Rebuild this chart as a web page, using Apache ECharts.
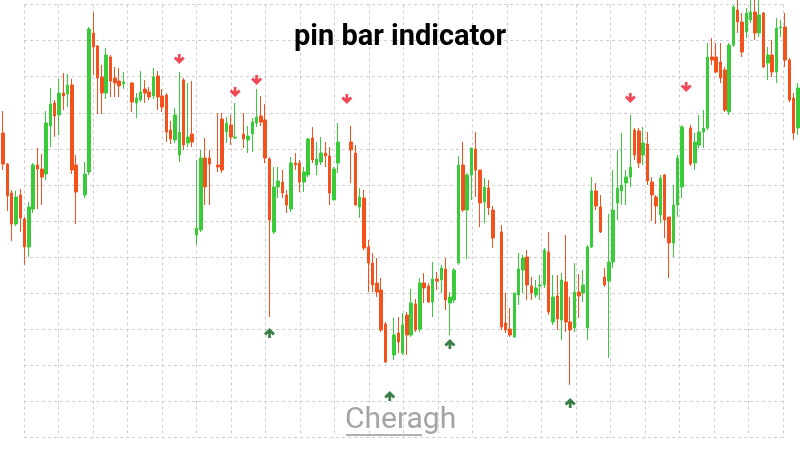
<!DOCTYPE html>
<html>
<head>
<meta charset="utf-8">
<script src="https://cdn.jsdelivr.net/npm/echarts@6/dist/echarts.min.js"></script>
<style>
  html, body { margin: 0; padding: 0; background: #fff; }
  #chart { width: 800px; height: 450px; }
</style>
</head>
<body>
<div id="chart"></div>
<script>
// price readings, one per bar (null = no bar drawn)
const openVals = [
  317,286,257,226,255,231,203,241,285,281,
  276,324,347,335,357,356,365,285,null,255,
  278,417,404,373,357,393,372,369,366,null,
  367,347,350,361,358,354,374,354,355,320,
  310,295,370,307,316,215,220,292,292,null,
  285,331,318,325,312,null,316,310,316,327,
  334,330,291,218,263,268,255,241,287,287,
  268,275,312,285,288,297,294,250,287,null,
  null,308,297,243,252,203,187,167,160,126,
  null,95,117,97,135,115,146,121,167,164,
  148,171,170,181,147,150,187,285,240,275,
  301,280,248,262,240,null,218,127,121,113,
  155,180,193,164,155,164,165,198,128,154,
  130,168,128,122,158,157,122,203,259,243,
  173,169,188,247,259,267,273,320,319,295,
  306,268,253,235,275,233,207,245,263,null,
  322,287,305,318,322,393,393,388,380,338,
  405,440,428,418,430,438,417,437,387,395,
  378,422,423,390,352,322
];
const closeVals = [
  286,254,226,253,232,203,243,285,281,273,
  327,346,334,357,354,365,280,258,null,276,
  421,403,372,357,395,369,367,364,368,null,
  348,352,358,357,353,373,353,343,318,311,
  335,318,305,313,308,222,292,263,286,null,
  283,280,327,313,313,null,311,314,328,333,
  328,292,230,263,269,257,245,287,285,268,
  278,311,290,291,297,294,257,281,308,null,
  null,300,245,253,202,187,165,158,120,88,
  null,115,108,125,115,147,120,167,162,148,
  171,169,182,150,153,180,285,240,275,302,
  280,247,263,242,212,null,123,120,115,157,
  181,192,165,157,162,165,200,138,153,131,
  170,128,120,158,154,165,203,259,244,218,
  165,188,240,262,265,273,283,295,287,307,
  269,255,244,272,230,207,245,292,323,null,
  286,308,318,322,393,390,378,372,340,405,
  443,428,398,437,438,417,435,383,395,378,
  422,423,390,350,317,362
];
const lowVals = [
  280,239,209,224,218,185,193,237,241,245,
  270,303,313,315,340,343,276,226,null,252,
  275,375,336,336,351,353,353,353,361,null,
  338,332,348,347,350,351,340,338,308,306,
  307,288,300,303,303,205,218,245,245,null,
  278,277,307,305,311,null,302,297,298,323,
  324,287,133,216,252,252,237,238,280,258,
  258,273,287,275,285,283,245,250,277,null,
  null,267,244,232,200,158,158,153,118,87,
  null,90,97,95,95,113,118,118,147,147,
  133,160,157,140,115,147,185,238,191,250,
  253,223,227,235,202,null,120,117,113,112,
  145,157,150,150,152,150,162,135,125,120,
  110,118,65,118,132,148,110,202,240,217,
  163,92,182,230,245,245,263,290,282,285,
  265,229,226,227,212,172,193,233,252,null,
  284,280,302,302,320,385,377,367,338,335,
  403,417,393,412,427,410,413,382,370,373,
  367,413,383,348,310,315
];
const highVals = [
  339,287,260,259,261,233,248,287,302,296,
  339,362,350,371,377,376,371,295,null,288,
  423,438,405,385,402,395,383,382,378,null,
  368,357,379,370,363,382,379,361,357,329,
  342,378,372,367,369,290,300,312,300,null,
  337,337,333,335,347,null,337,324,332,361,
  354,346,293,283,283,280,260,293,297,290,
  283,312,323,308,313,308,303,283,327,null,
  null,324,305,262,260,210,197,192,172,128,
  null,132,133,137,138,161,151,172,177,167,
  188,178,185,192,158,182,294,308,277,302,
  318,280,272,270,244,null,225,157,142,157,
  197,195,200,173,170,175,202,218,175,175,
  177,215,153,187,176,180,205,273,267,255,
  182,236,280,300,317,280,335,322,322,323,
  318,273,255,275,276,233,265,295,325,null,
  325,317,335,340,407,412,407,407,383,407,
  445,450,437,442,450,450,450,438,403,410,
  432,430,437,392,357,367
];

// pin bar signals: bar index and level of the arrow
const bearIdx = [41, 54, 59, 80, 146, 159];
const bearVals = [391, 358, 370, 351, 352, 363];
const bullIdx = [62, 90, 104, 132];
const bullVals = [117, 54, 106, 47];

const categories = openVals.map((v, i) => String(i));
const candles = openVals.map((o, i) =>
  o == null ? ['-', '-', '-', '-'] : [o, closeVals[i], lowVals[i], highVals[i]]);

const arrowDown = 'path://M3.6,0 L6.4,0 L6.4,4.6 L8.6,2.4 L10.6,4.4 L5,10 L-0.6,4.4 L1.4,2.4 L3.6,4.6 Z';
const arrowUp = 'path://M3.6,10 L6.4,10 L6.4,5.4 L8.6,7.6 L10.6,5.6 L5,0 L-0.6,5.6 L1.4,7.6 L3.6,5.4 Z';

const green = '#3acb3a';
const red = '#f3521d';
const gridLine = { show: true, lineStyle: { color: '#cfcfcf', type: [3, 3], width: 1 } };

let chart = echarts.init(document.getElementById('chart'), null, { renderer: 'canvas' });
let option = {
  animation: false,
  title: {
    text: 'pin bar indicator',
    left: 'center',
    top: 18,
    textStyle: { fontFamily: 'Roboto', fontSize: 29, fontWeight: 'bold', color: '#000' }
  },
  grid: [
    { left: 24, right: 17, top: 4.5, bottom: 12.5 },
    { left: 1, right: -1, top: 0, bottom: 0 }
  ],
  xAxis: [
    { type: 'value', gridIndex: 0, min: 0, max: 22, interval: 1,
      axisLine: { show: false }, axisTick: { show: false }, axisLabel: { show: false },
      splitLine: gridLine },
    { type: 'category', gridIndex: 1, data: categories, boundaryGap: true, show: false }
  ],
  yAxis: [
    { type: 'value', gridIndex: 0, min: 0, max: 12, interval: 1,
      axisLine: { show: false }, axisTick: { show: false }, axisLabel: { show: false },
      splitLine: gridLine },
    { type: 'value', gridIndex: 1, min: 0, max: 450, show: false, splitLine: { show: false } }
  ],
  graphic: [{
    type: 'group',
    left: 345,
    top: 405,
    children: [
      { type: 'text', style: { text: 'Cheragh', x: 0, y: 0, fontFamily: 'Roboto', fontSize: 30,
        fill: '#a4a4a4' } },
      { type: 'rect', shape: { x: 1, y: 29, width: 76, height: 2 }, style: { fill: '#b0b0b0' } }
    ]
  }],
  series: [
    {
      type: 'candlestick',
      xAxisIndex: 1,
      yAxisIndex: 1,
      barWidth: 3,
      data: candles,
      itemStyle: {
        color: green, color0: red,
        borderColor: green, borderColor0: red,
        borderWidth: 1
      }
    },
    {
      type: 'scatter',
      xAxisIndex: 1,
      yAxisIndex: 1,
      symbol: arrowDown,
      symbolSize: [11, 10],
      itemStyle: { color: '#f01a2a' },
      data: bearIdx.map((b, i) => [b, bearVals[i]])
    },
    {
      type: 'scatter',
      xAxisIndex: 1,
      yAxisIndex: 1,
      symbol: arrowUp,
      symbolSize: [11, 10],
      itemStyle: { color: '#0a5e19' },
      data: bullIdx.map((b, i) => [b, bullVals[i]])
    }
  ]
};
chart.setOption(option);
</script>
</body>
</html>
